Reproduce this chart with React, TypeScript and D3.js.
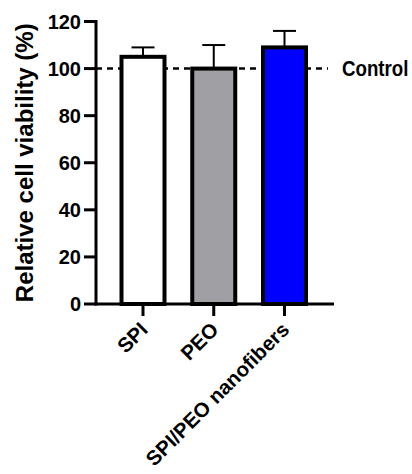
import React from "react";
import * as d3 from "d3";

const categories = ["SPI", "PEO", "SPI/PEO nanofibers"];
const means = [105, 100, 109];
const errors = [4, 10, 7];
const fills = ["#ffffff", "#a0a0a4", "#0000ff"];
const yTicks = [0, 20, 40, 60, 80, 100, 120];
const controlValue = 100;
const controlLabel = "Control";
const yLabel = "Relative cell viability (%)";

const W = 412;
const H = 474;
const axisX = 96;
const axisY = 304;
const axisEnd = 334;
const barW = 43;
const font = "Arial, 'Liberation Sans', Helvetica, sans-serif";

export default function App() {
  const y = d3.scaleLinear().domain([0, 120]).range([304, 21.5]);
  const x = d3.scalePoint<string>().domain(categories).range([143, 284.5]);

  return (
    <svg width={W} height={H} style={{ position: "absolute", left: 0, top: 0 }}>
      <rect width={W} height={H} fill="#fff" />
      {/* control dashed line */}
      <line x1={axisX} x2={328} y1={y(controlValue)} y2={y(controlValue)} stroke="#000" strokeWidth={2.5} strokeDasharray="6,5" />
      <text transform={`translate(342,${y(controlValue) + 7.5}) scale(0.85,1)`} fontFamily={font} fontWeight="bold" fontSize={22}>{controlLabel}</text>
      {/* error bars */}
      {categories.map((c, i) => (
        <g key={"e" + c}>
          <line x1={x(c)} x2={x(c)} y1={y(means[i])} y2={y(means[i] + errors[i])} stroke="#000" strokeWidth={2} />
          <line x1={x(c)! - 11.5} x2={x(c)! + 11.5} y1={y(means[i] + errors[i])} y2={y(means[i] + errors[i])} stroke="#000" strokeWidth={2} />
        </g>
      ))}
      {/* bars */}
      {categories.map((c, i) => (
        <rect key={c} x={x(c)! - barW / 2} y={y(means[i])} width={barW} height={y(0) - y(means[i])} fill={fills[i]} stroke="#000" strokeWidth={4} />
      ))}
      {/* y axis */}
      <line x1={axisX} x2={axisX} y1={y(120) - 1.5} y2={axisY + 1.5} stroke="#000" strokeWidth={3} />
      {yTicks.map((t) => (
        <g key={t}>
          <line x1={84} x2={axisX} y1={y(t)} y2={y(t)} stroke="#000" strokeWidth={3} />
          <text x={81} y={y(t)} dy="0.36em" textAnchor="end" fontFamily={font} fontWeight="bold" fontSize={20}>{t}</text>
        </g>
      ))}
      {/* x axis */}
      <line x1={axisX - 1.5} x2={axisEnd} y1={axisY} y2={axisY} stroke="#000" strokeWidth={3} />
      {categories.map((c) => (
        <g key={"t" + c}>
          <line x1={x(c)} x2={x(c)} y1={axisY} y2={316} stroke="#000" strokeWidth={3} />
          <text transform={`translate(${x(c)! + 6},${331}) rotate(-45)`} textAnchor="end" fontFamily={font} fontWeight="bold" fontSize={20.5}>{c}</text>
        </g>
      ))}
      <text transform={`translate(33,${(y(0) + y(120)) / 2}) rotate(-90)`} textAnchor="middle" fontFamily={font} fontWeight="bold" fontSize={24}>{yLabel}</text>
    </svg>
  );
}
